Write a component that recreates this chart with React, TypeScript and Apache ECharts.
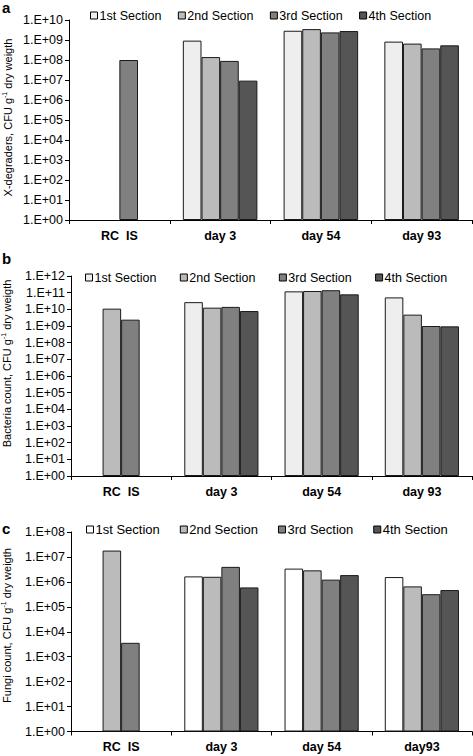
import React, { useEffect, useRef } from "react";
import * as echarts from "echarts";

const seriesNames = ["1st Section", "2nd Section", "3rd Section", "4th Section"];
const catsAB = ["RC  IS", "day 3", "day 54", "day 93"];
const catsC = ["RC  IS", "day 3", "day 54", "day93"];

// Panel a: X-degraders
const a1 = [null, 9.3e8, 2.9e9, 8.3e8];
const a2 = [null, 1.4e8, 3.5e9, 6.6e8];
const a3 = [1.0e8, 9.0e7, 2.4e9, 3.8e8];
const a4 = [null, 9.3e6, 2.8e9, 5.4e8];

// Panel b: Bacteria count
const b1 = [null, 2.7e10, 1.2e11, 5.2e10];
const b2 = [1.1e10, 1.26e10, 1.26e11, 4.8e9];
const b3 = [2.4e9, 1.4e10, 1.4e11, 1.0e9];
const b4 = [null, 7.9e9, 7.9e10, 9.5e8];

// Panel c: Fungi count
const c1 = [null, 1.66e6, 3.4e6, 1.56e6];
const c2 = [1.8e7, 1.6e6, 2.9e6, 6.6e5];
const c3 = [3.6e3, 4.0e6, 1.23e6, 3.2e5];
const c4 = [null, 6.0e5, 1.87e6, 4.7e5];

const yMaxExp = [10, 12, 8];
const yNames = [
  ["X-degraders, CFU g", " dry weigth"],
  ["Bacteria count, CFU g", " dry weigth"],
  ["Fungi count, CFU g", " dry weigth"],
];
const panelLetters = ["a", "b", "c"];

const colorsAB = ["#eeeeee", "#bbbbbb", "#808080", "#555555"];
const colorsC = ["#ffffff", "#bbbbbb", "#808080", "#555555"];

const FONT = "'Liberation Sans', Arial, sans-serif";

export default function App() {
  const ref = useRef<HTMLDivElement>(null);
  useEffect(() => {
    if (!ref.current) return;
    const chart = echarts.init(ref.current, null, { renderer: "svg" });
    const data = [
      [a1, a2, a3, a4],
      [b1, b2, b3, b4],
      [c1, c2, c3, c4],
    ];
    const grids = [
      { left: 69, top: 20, right: 1, height: 200 },
      { left: 71, top: 276, right: 1, height: 200 },
      { left: 71, top: 532, right: 1, height: 199.5 },
    ];
    const legendPos = [
      { left: 90, top: 9, gap: 16.5, fs: 12.5 },
      { left: 85, top: 271, gap: 23.5, fs: 12.5 },
      { left: 86, top: 523, gap: 20, fs: 13 },
    ];
    const nameCenter = [
      [7.5, 117.5],
      [6.5, 363.5],
      [6.5, 625.5],
    ];
    const series: any[] = [];
    data.forEach((panel, p) => {
      const cols = p === 2 ? colorsC : colorsAB;
      panel.forEach((vals, s) => {
        series.push({
          type: "bar",
          name: seriesNames[s],
          xAxisIndex: p,
          yAxisIndex: p,
          data: vals,
          barGap: "0%",
          barCategoryGap: "26%",
          itemStyle: { color: cols[s], borderColor: "#1a1a1a", borderWidth: 1 },
        });
      });
    });
    const option: any = {
      animation: false,
      grid: grids,
      legend: legendPos.map((l, p) => ({
        left: l.left,
        top: l.top,
        padding: 0,
        itemGap: l.gap,
        itemWidth: 7,
        itemHeight: 7,
        icon: "rect",
        selectedMode: false,
        textStyle: { fontFamily: FONT, fontSize: l.fs, color: "#000", padding: [0, 0, 0, -3] },
        data: seriesNames.map((n, s) => ({
          name: n,
          itemStyle: {
            color: (p === 2 ? colorsC : colorsAB)[s],
            borderColor: "#000",
            borderWidth: 1,
          },
        })),
      })),
      xAxis: [0, 1, 2].map((p) => ({
        type: "category",
        gridIndex: p,
        data: p === 2 ? catsC : catsAB,
        axisLine: { lineStyle: { color: "#000", width: 1 } },
        axisTick: { show: true, length: 4, lineStyle: { color: "#000" } },
        axisLabel: {
          fontFamily: FONT,
          fontSize: 12.5,
          fontWeight: "bold",
          color: "#000",
          margin: 9,
        },
      })),
      yAxis: [0, 1, 2].map((p) => ({
        type: "log",
        logBase: 10,
        gridIndex: p,
        min: 1,
        max: Math.pow(10, yMaxExp[p]),
        interval: 1,
        splitNumber: yMaxExp[p],
        splitLine: { show: false },
        axisLine: { show: true, lineStyle: { color: "#000", width: 1 } },
        axisTick: { show: true, length: 4, lineStyle: { color: "#000" } },
        axisLabel: {
          fontFamily: FONT,
          fontSize: 12.5,
          color: "#000",
          margin: 6,
          formatter: (v: number) => {
            const e = Math.round(Math.log10(v));
            return "1.E+" + (e < 10 ? "0" + e : String(e));
          },
        },
      })),
      graphic: [
        ...panelLetters.map((t, p) => ({
          type: "text",
          left: 2,
          top: [0, 251, 521][p],
          style: { text: t, fontFamily: FONT, fontSize: 15, fontWeight: "bold", fill: "#000" },
        })),
        ...yNames.map((nm, p) => ({
          type: "text",
          x: nameCenter[p][0],
          y: nameCenter[p][1],
          rotation: Math.PI / 2,
          style: {
            text: "{n|" + nm[0] + "}{s|-1}{n|" + nm[1] + "}",
            align: "center",
            verticalAlign: "middle",
            fontFamily: FONT,
            fontSize: 11,
            fill: "#000",
            rich: {
              n: { fontFamily: FONT, fontSize: 11, fill: "#000", lineHeight: 13 },
              s: {
                fontFamily: FONT,
                fontSize: 7,
                fill: "#000",
                verticalAlign: "top",
                lineHeight: 13,
              },
            },
          },
        })),
      ],
      series,
    };
    chart.setOption(option);
    return () => chart.dispose();
  }, []);
  return (
    <div
      ref={ref}
      style={{ position: "fixed", left: 0, top: 0, width: 473, height: 756, background: "#fff" }}
    />
  );
}
